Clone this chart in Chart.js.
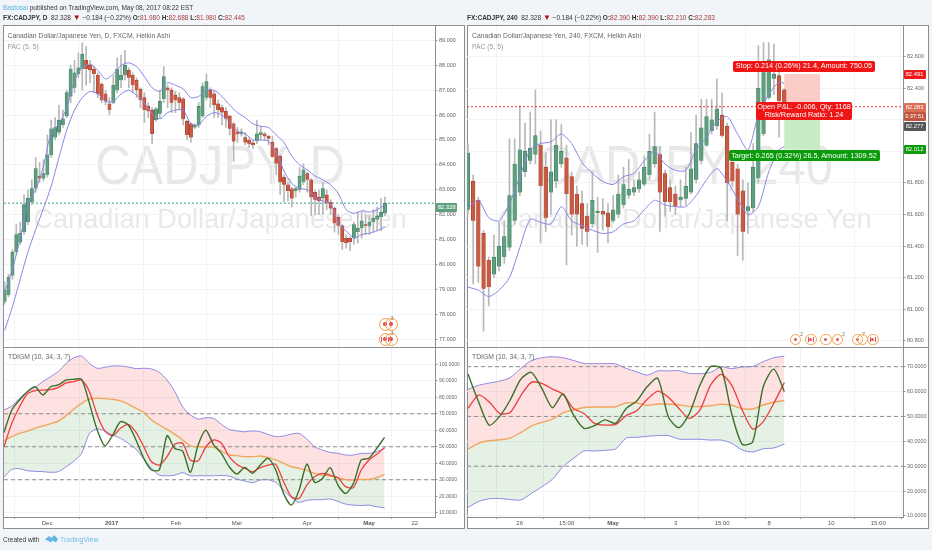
<!DOCTYPE html>
<html><head><meta charset="utf-8">
<script src="https://cdn.jsdelivr.net/npm/chart.js@4"></script>
<style>
html,body{margin:0;padding:0;width:932px;height:550px;overflow:hidden;background:#f1f5f9;font-family:"Liberation Sans",Arial,sans-serif;}
#stage{position:absolute;left:0;top:0;width:932px;height:550px;filter:blur(.3px);}
.abs{position:absolute;white-space:nowrap;}
.panel{position:absolute;background:#fff;border:1px solid #8e8e8e;box-sizing:border-box;}
canvas{position:absolute;}
.hdr{font-size:6.5px;color:#333;line-height:9px;}
.val{color:#a83a3a;}
.legend{font-size:6.8px;color:#666;line-height:9px;}
.wm1,.wm2{color:#e8e8e8;line-height:1;transform-origin:center bottom;}
.tag{position:absolute;color:#fff;font-size:5.8px;text-align:center;line-height:9px;height:9px;border-radius:1px;}
.box{position:absolute;color:#fff;font-size:7.3px;text-align:center;border-radius:2px;white-space:nowrap;line-height:7.6px;box-sizing:border-box;}
.ev{position:absolute;width:11.5px;height:11.5px;border:1.1px solid #f5a14b;border-radius:50%;background:#fff;box-sizing:border-box;}
.ev.big{width:13px;height:13px;border-width:1.5px;border-color:#f39a3e;}
.ev i{position:absolute;left:50%;top:50%;width:3.4px;height:3.4px;margin:-1.7px 0 0 -1.7px;border-radius:50%;background:#e4505c;}
.ev.ca:before,.ev.ca:after{content:"";position:absolute;top:50%;width:1px;height:5px;margin-top:-2.5px;background:#e4505c;}
.ev.ca:before{left:1.8px}.ev.ca:after{right:1.8px}
.ev b{position:absolute;left:100%;top:-4px;font:normal 5.5px "Liberation Sans";color:#777;}
</style></head><body>
<div id="stage">
  <div class="abs hdr" style="left:3px;top:2.5px"><span style="color:#5bb5e0">Bastosai</span> published on TradingView.com, May 08, 2017 08:22 EST</div>
  <div class="abs hdr" style="left:3px;top:13px"><b>FX:CADJPY, D</b>&nbsp; 82.328 <span style="color:#a11;font-size:8px">▼</span> −0.184 (−0.22%) <b>O:</b><span class="val">81.980</span> <b>H:</b><span class="val">82.688</span> <b>L:</b><span class="val">81.980</span> <b>C:</b><span class="val">82.445</span></div>
  <div class="abs hdr" style="left:467px;top:13px"><b>FX:CADJPY, 240</b>&nbsp; 82.328 <span style="color:#a11;font-size:8px">▼</span> −0.184 (−0.22%) <b>O:</b><span class="val">82.390</span> <b>H:</b><span class="val">82.390</span> <b>L:</b><span class="val">82.210</span> <b>C:</b><span class="val">82.283</span></div>

  <div class="panel" style="left:3px;top:25px;width:462px;height:504px"></div>
  <div class="panel" style="left:467px;top:25px;width:462px;height:504px"></div>

  <div class="abs wm1" style="left:220px;top:144px;font-size:49px;transform:translateX(-50%) scaleY(1.15)">CADJPY, D</div>
  <div class="abs wm2" style="left:220px;top:205px;font-size:27.2px;transform:translateX(-50%)">Canadian Dollar/Japanese Yen</div>
  <div class="abs wm1" style="left:685px;top:144px;font-size:49px;transform:translateX(-50%) scaleY(1.15)">CADJPY, 240</div>
  <div class="abs wm2" style="left:685px;top:205px;font-size:27.2px;transform:translateX(-50%)">Canadian Dollar/Japanese Yen</div>

  <canvas id="dMain" style="left:4px;top:26px"></canvas>
  <canvas id="dSub" style="left:4px;top:348px"></canvas>
  <canvas id="hMain" style="left:467px;top:26px"></canvas>
  <canvas id="hSub" style="left:467px;top:348px"></canvas>

  <div style="position:absolute;left:3px;top:347px;width:462px;height:1.4px;background:#8e8e8e"></div>
  <div style="position:absolute;left:467px;top:347px;width:462px;height:1.4px;background:#8e8e8e"></div>
  <div style="position:absolute;left:904px;top:517.5px;width:24px;height:10px;background:#fff"></div>

  <div class="abs legend" style="left:7.5px;top:31px">Canadian Dollar/Japanese Yen, D, FXCM, Heikin Ashi</div>
  <div class="abs legend" style="left:7.5px;top:41.5px;color:#999">PAC (5, 5)</div>
  <div class="abs legend" style="left:8px;top:352px">TDIGM (10, 34, 3, 7)</div>
  <div class="abs legend" style="left:472px;top:31px">Canadian Dollar/Japanese Yen, 240, FXCM, Heikin Ashi</div>
  <div class="abs legend" style="left:472px;top:41.5px;color:#999">PAC (5, 5)</div>
  <div class="abs legend" style="left:472px;top:352px">TDIGM (10, 34, 3, 7)</div>

  <div class="tag" style="left:436px;top:202.5px;width:21px;background:#5f9f80">82.328</div>
  <div class="tag" style="left:903.5px;top:69.5px;width:22px;background:#f01818">82.491</div>
  <div class="tag" style="left:903.5px;top:102.5px;width:22px;background:#dc6f58">82.283</div>
  <div class="tag" style="left:903.5px;top:111.5px;width:22px;background:#c0553f">3:37:51</div>
  <div class="tag" style="left:903.5px;top:122px;width:22px;background:#555">82.277</div>
  <div class="tag" style="left:903.5px;top:145px;width:22px;background:#0b9b0b">82.012</div>

  <div class="box" style="left:733px;top:61px;width:142px;height:10.6px;background:#f01515;line-height:10.6px">Stop: 0.214 (0.26%) 21.4, Amount: 750.05</div>
  <div class="box" style="left:756px;top:102.3px;width:96px;height:17.4px;background:#f01515;padding-top:1.2px">Open P&amp;L: -0.006, Qty: 1168<br>Risk/Reward Ratio: 1.24</div>
  <div class="box" style="left:728.5px;top:150px;width:151px;height:11.2px;background:#0a9a0a;line-height:11.2px">Target: 0.265 (0.32%) 26.5, Amount: 1309.52</div>

  <div class="ev big" style="left:378.5px;top:317.5px"><i></i><b>3</b></div>
  <div class="ev big" style="left:384.5px;top:317.5px;background:transparent"><i></i></div>
  <div class="ev big ca" style="left:378.5px;top:332.5px"><i></i><b>3</b></div>
  <div class="ev big" style="left:384.5px;top:332.5px;background:transparent"><i></i></div>

  <div class="ev" style="left:789.5px;top:333.5px"><i></i><b>2</b></div>
  <div class="ev ca" style="left:805px;top:333.5px"><i></i></div>
  <div class="ev" style="left:820px;top:333.5px"><i></i></div>
  <div class="ev" style="left:831.5px;top:333.5px"><i></i><b>2</b></div>
  <div class="ev" style="left:851.5px;top:333.5px"><i></i><b>7</b></div>
  <div class="ev" style="left:856.5px;top:333.5px;background:transparent"></div>
  <div class="ev ca" style="left:867px;top:333.5px"><i></i></div>

  <div class="abs hdr" style="left:3px;top:534.5px;color:#333">Created with</div>
  <svg style="position:absolute;left:45px;top:534px" width="13" height="10" viewBox="0 0 13 10"><path d="M0 5.5 L4 2 L6.5 4 L9 1 L13 5 L11 8.5 L7.5 6.5 L5.5 8.5 L3 6.8 Z" fill="#5fb8e3"/></svg>
  <div class="abs hdr" style="left:60px;top:534.5px;color:#6fbfe6;font-size:7px">TradingView</div>
</div>
<script>
// ---------- Daily candles (Heikin Ashi) ----------
const dO=[78.5,78.77,79.55,80.5,80.88,81.3,81.7,82.5,83.05,83.55,
83.45,83.6,84.4,85.1,85.3,85.6,85.95,86.75,87.1,87.65,
87.85,88.2,88,87.85,87.6,87.25,86.85,86.45,86.5,87,
87.4,87.6,87.8,87.6,87.4,87.05,86.7,86.35,86.2,85.8,
86.05,86.65,87.1,87,86.8,86.7,86.65,85.75,85.65,85.5,
85.6,85.95,86.7,87,86.85,86.45,86.3,86.15,85.95,85.65,
85.33,85.23,85.1,85,84.88,84.95,85.2,85.25,85.15,84.92,
84.65,84.35,83.5,83.2,83.04,82.95,83,83.3,83.65,83.4,
82.9,82.7,82.66,82.8,82.5,82.25,81.9,81.55,81.05,81.05,
81.05,81.3,81.45,81.6,81.53,81.7,81.8,81.9,82.05];
const dC=[78.97,79.48,80.49,81.2,81.25,82.4,82.66,83.05,83.85,83.45,
83.65,84.4,85.45,85.5,85.8,85.85,86.9,87.85,87.7,87.9,
88.45,87.85,87.8,87.65,86.85,86.6,86.55,86.2,87.2,87.85,
87.6,88,87.5,87.2,87,86.6,86.2,86.15,85.25,86.25,
86.55,87.55,87,86.5,86.6,86.5,85.85,85.2,85.1,85.6,
86.35,87.15,87.35,86.7,86.4,86.2,86.1,85.85,85.45,84.95,
85.23,85.33,84.9,84.85,84.8,85.25,85.3,85.15,85.05,84.32,
84.05,83.3,83.2,82.95,82.65,83.05,83.55,83.8,83.4,82.7,
82.6,82.55,83.05,82.46,82.25,81.65,81.55,80.9,80.85,80.9,
81.6,81.45,81.75,81.55,81.7,81.85,81.95,82.1,82.45];
const dH=[79.3,79.6,80.6,81.6,81.7,82.8,83,83.4,84.3,84.1,
84.2,85.2,85.8,85.9,86.4,86.2,87,88,88.2,88.5,
88.9,88.75,88.2,87.95,87.7,87.3,87,86.7,87.6,88.3,
88.4,88.6,87.9,87.7,87.5,87.1,86.9,86.5,86.3,86.3,
87,87.95,87.2,87.1,86.95,86.9,86.7,85.8,85.7,85.65,
86.5,87.3,87.65,87.1,86.95,86.6,86.4,86.3,86,85.7,
85.5,85.45,85.3,85.1,85,85.8,85.55,85.3,85.2,85.15,
84.7,84.4,83.6,83.3,83.1,83.1,83.9,84.05,83.7,83.45,
83,83,83.3,83,82.6,82.3,82,81.6,81.2,81.1,
81.7,82.1,82.1,82,82,82.2,82.3,82.65,82.7];
const dL=[78.4,78.7,79.4,80.4,80.8,81.2,81.6,82.4,82.9,83.3,
83.35,83.5,84.3,85,85.2,85.5,85.9,86.5,86.9,87.5,
87,87.2,87.3,86.9,86.7,86.5,86.4,86,86.45,86.9,
87.1,87.4,87.1,86.9,86.7,86.3,85.7,85.9,84.85,85.75,
85.9,86.5,86.3,86.1,86.1,86.2,85.6,85,84.9,85.45,
85.5,85.9,86.6,86.3,85.9,85.9,85.6,85.5,85.2,84.15,
84.9,85.15,84.8,84.7,84.65,84.85,85,85,84.8,84.3,
83.6,82.8,82.5,82.55,82.3,82.7,82.9,83.2,82.9,81.95,
82,82,82,82.2,82,81.3,81.2,80.6,80.65,80.55,
80.8,80.85,81.05,81.2,81.2,81.3,81.35,81.35,81.95];
const dPacHi=[78.9,79.8,81.05,82.45,83,83.95,85.3,85.65,86.3,87.4,87.9,88.05,87.8,87.45,87.65,88,88.1,87.95,87.55,87.1,86.95,87.3,87.2,87.05,86.7,86.75,87,87,86.75,86.4,86.1,85.9,85.65,85.55,85.5,85.2,84.9,84.35,84,83.8,83.55,83.4,83.2,82.85,82.2,82.05,82.15,82.1,82.2,82.4];
const dPacLo=[77.35,78.3,79.4,80.5,81.4,82.25,83.15,84.3,85.4,86.2,86.7,86.95,86.85,86.55,86.55,86.85,87,86.8,86.5,86.05,85.85,86.1,86.2,86.2,85.65,85.6,85.95,86.1,86,85.7,85.35,85.25,85,85,84.95,84.5,83.75,83.25,83.05,83,82.7,82.55,82.45,81.65,81.35,81.05,81.2,81.25,81.35,81.5];
// ---------- Daily TDI ----------
const dUp=[72.3,74.7,79.4,83.4,86,89.5,92.5,95.6,100.6,104,105,100.6,97.6,98.2,99,99,98.4,97.4,97.6,97.2,95.1,90.5,83.4,74.3,69.3,66.8,67.6,67.2,63.6,60.6,59.6,59.1,59.6,59.1,57.5,56.1,56.5,57.7,58.1,54.7,50,48,46.6,46,45,45,46,46,47,49];
const dMid=[53.5,56.1,58.1,59.5,61.2,62.6,64,65.6,68.9,72.9,76.3,79,79.4,79.2,78.8,77.8,75.9,73.3,70.9,66.2,63.2,60.6,57.5,54.1,50.6,50,50,49.8,47.4,45,44.6,44,44,44.4,43.4,42,39.9,37.9,36.9,35.7,33.9,32.8,32.2,31.2,30,29.8,30.2,30.2,31.2,33.3];
const dLow=[31.8,36.3,36.7,35.5,35.1,34.9,34.5,34.9,37.9,41.3,46,58.1,60.8,59.5,57.1,55.1,52.1,48.6,42.6,36.9,32.8,32.4,32.8,34.3,32.4,32.4,32.4,32.4,32.6,32.2,30.4,29.2,28.2,29.8,30,28.4,23.7,19.1,16.3,17.5,17.9,17.9,18.3,16.9,15.2,14.6,14.4,14.6,13.6,13];
const dK=[58.7,72.3,78.4,83.4,86.4,81.4,86.4,87.5,90.5,90.9,90.9,76.3,60.2,50.6,57.1,65.2,63.2,54.1,43,35.9,36,56.7,49,47.4,34.5,51.1,60,51.1,46,37.9,33.5,37.5,33.9,38.9,43,35.9,21.7,14.6,23.7,39.5,28.4,30.8,37.3,26.8,21.7,27.8,42,43,49,55.7];
const dD=[50,64.2,74.3,82,84,84.4,84.6,86,88.7,89.5,90.5,83.4,69.3,59.5,56.7,61.2,63.6,58.7,50,40.9,38.9,44,51.5,52.1,42,41.5,50,54.1,52.1,44,39.3,36.9,34.9,37.3,38.9,39.3,28.8,19.7,18.7,26.8,31.8,33.9,32.8,31.2,25.8,25.2,35.9,42,45.4,49.6];
// ---------- 240 candles (Heikin Ashi) ----------
const hO=[81.63,81.81,81.69,81.48,81.31,81.22,81.27,81.33,81.39,81.56,
81.74,81.87,81.94,81.98,82.04,81.9,81.74,81.81,81.92,81.96,
81.84,81.73,81.67,81.59,81.54,81.61,81.62,81.61,81.56,81.6,
81.66,81.72,81.74,81.76,81.79,81.85,81.92,81.98,81.86,81.77,
81.73,81.69,81.7,81.74,81.82,81.94,82.04,82.13,82.16,82.23,
82.16,81.93,81.89,81.75,81.62,81.64,81.83,82.11,82.34,82.46,
82.48,82.39];
const hC=[81.99,81.56,81.27,81.13,81.14,81.33,81.4,81.46,81.72,81.92,
82.01,82,82.02,82.1,81.78,81.58,81.87,82.04,82,81.73,
81.6,81.6,81.51,81.49,81.69,81.62,81.6,81.52,81.63,81.73,
81.79,81.76,81.77,81.82,81.9,82,82.03,81.74,81.68,81.68,
81.65,81.71,81.78,81.89,82.05,82.15,82.22,82.2,82.27,82.1,
81.8,81.81,81.6,81.49,81.65,81.9,82.4,82.5,82.58,82.49,
82.32,82.29];
const hH=[82.05,81.85,81.71,81.5,81.33,81.47,81.55,81.56,82.08,82.08,
82.29,82.18,82.25,82.39,82.13,81.99,82.2,82.2,82.17,82.04,
81.87,81.78,81.75,81.67,81.87,81.71,81.7,81.67,81.72,81.85,
81.9,81.95,81.82,81.87,81.97,82.11,82.25,82.03,81.88,81.82,
81.78,81.82,81.9,82.12,82.23,82.33,82.33,82.33,82.46,82.37,
82.18,82,81.92,81.82,81.8,82.05,82.67,82.69,82.69,82.68,
82.5,82.4];
const hL=[81.6,81.16,81.17,80.86,81.02,81.2,81.24,81.29,81.37,81.54,
81.72,81.84,81.92,81.92,81.42,81.49,81.6,81.77,81.9,81.28,
81.47,81.4,81.41,81.4,81.52,81.36,81.5,81.42,81.55,81.58,
81.64,81.7,81.72,81.74,81.78,81.82,81.9,81.49,81.59,81.62,
81.6,81.65,81.66,81.73,81.8,81.92,82.03,82.11,82.14,82.09,
81.56,81.78,81.34,81.31,81.48,81.62,81.8,82.1,82.33,82.36,
82.09,82.28];
const hPacHi=[81.64,81.69,81.58,81.56,81.67,81.84,82.01,82.05,82.06,82.11,82.05,81.93,81.86,81.81,81.79,81.84,81.86,81.94,82,81.92,81.88,81.88,82.01,82.09,82.19,82.22,82.11,82.01,82.23,82.36,82.44,82.43];
const hPacLo=[81.14,81.12,81.08,81.12,81.2,81.39,81.57,81.55,81.54,81.65,81.56,81.53,81.5,81.48,81.49,81.54,81.56,81.63,81.69,81.66,81.65,81.65,81.72,81.82,81.89,81.81,81.7,81.6,81.65,81.87,82.01,82.03];
// ---------- 240 TDI ----------
const hUp=[60.9,62.5,63.4,64.2,65.6,69.3,72.4,73.6,74,73.6,72.5,71.3,71.2,71.2,71.1,69.3,67.9,66.6,68.3,68.3,68.4,67.3,67.2,67.7,69.9,69.2,69.9,70.1,72,73.6,74.2];
const hMid=[36.9,39.2,40.2,40.6,41.3,43.5,46.1,47.6,48.9,51.4,52.6,53.6,53.8,53.8,53.9,55.4,55.4,54.4,55,54.9,54.6,54,54,54.3,54.9,54.5,53.1,53,54.6,55.7,56.4];
const hLow=[13.4,15.8,16.9,17,16.6,16.4,19,21.7,24.7,29.8,33.1,36.1,36.1,36.4,36.9,41.3,41.6,42,42.3,42.3,40.9,40.8,40.8,40.5,40.5,39.2,36.5,35.7,37,37.3,38.9];
const hK=[67,55.9,46.5,50,56.6,64.9,67.7,61.3,53.5,59,50.6,45.2,46.3,48.6,47.2,53.2,56.2,62,65.3,49.8,45.5,51.2,62.6,70,69.3,51.2,38.8,39.8,62,69,60];
const hD=[53.2,58.6,55.9,51.2,51.6,58.3,63.7,63.3,61,59,53.2,51.2,47.2,46.5,46.8,50.3,52.3,56.9,60.2,57.7,53.2,49.2,52.6,62.6,66.9,62.6,52.6,44.9,47.9,55.3,63.6];
// ---------- axes ----------
const dPriceTicks=[77,78,79,80,81,82,83,84,85,86,87,88,89];
const dOscTicks=[10,20,30,40,50,60,70,80,90,100];
const dDateLabels=['Dec','2017','Feb','Mar','Apr','May','22'];
const dDateIdxMain=[10.9,27.4,44,60,77.9,94,105.7];
const dDateIdxSub=[11.1,27.7,44.3,60,78.1,94,105.8];
const hPriceTicks=[80.8,81,81.2,81.4,81.6,81.8,82,82.2,82.4,82.6];
const hOscTicks=[10,20,30,40,50,60,70];
const hDateLabels=['26','15:00','May','3','15:00','8','10','15:00'];
const hDateIdxMain=[9.96,18.96,27.96,39.97,48.97,58,70,79];
const hDateIdxSub=[9.8,18.7,27.5,39.4,48.2,57.1,68.9,77.8];
const oscLevels=[70,50,30];
const dLastLine=82.46;
const hLastLine=82.283;
const hStop=82.491, hTarget=82.012, hEntry=82.283;
const hPosBars=[61,67.9];

const GREEN='#5f9e7e',GREEN_B='#3a7d5f',RED='#cb5a44',RED_B='#a23c2a';
const TXT='#666',GRID='#f1f3f6',AXIS='#8e8e8e';

function candleSets(O,H,L,C,bw){
  return [
    {type:'bar',order:2,grouped:false,barThickness:1,backgroundColor:'#b8b8b8',borderWidth:0,
      data:H.map((h,i)=>({x:i,y:[L[i],h]}))},
    {type:'bar',order:1,grouped:false,barThickness:bw,minBarLength:1,borderWidth:.6,
      backgroundColor:C.map((c,i)=>c>=O[i]?GREEN:RED),
      borderColor:C.map((c,i)=>c>=O[i]?GREEN_B:RED_B),
      data:C.map((c,i)=>({x:i,y:[O[i],c]}))}
  ];
}
function line(vals,step,lastIdx,color,width,order,extra){
  return Object.assign({type:'line',order,borderColor:color,borderWidth:width,pointRadius:0,tension:.25,fill:false,
    data:vals.map((v,i)=>({x:Math.min(i*step,lastIdx),y:v}))},extra||{});
}
function hline(y,a,b,color,dash,order){
  return {type:'line',order,borderColor:color,borderWidth:1,borderDash:dash,pointRadius:0,fill:false,
    data:[{x:a,y},{x:b,y}]};
}
function oscSets(up,mid,low,k,d,lastIdx,a,b){
  return [
    line(up,2,lastIdx,'#8f86e4',1,5,{fill:{target:'+1'},backgroundColor:'rgba(250,60,60,.15)'}),
    line(mid,2,lastIdx,'#f2a55c',1.4,3),
    line(low,2,lastIdx,'#8f86e4',1,5,{fill:{target:'-1'},backgroundColor:'rgba(30,140,30,.12)'}),
    line(d,2,lastIdx,'#ee3f3f',1.3,1),
    line(k,2,lastIdx,'#3d6f28',1.4,0),
    ...oscLevels.map(l=>hline(l,a,b,'#8c8c8c',[4,3],4))
  ];
}
function noMargins(s){
  s.paddingTop=s.paddingBottom=s.paddingLeft=s.paddingRight=0;
  if(s._margins){s._margins.top=s._margins.bottom=s._margins.left=s._margins.right=0;}
}
function makeChart(id,axisW,xAxisH,datasets,xr,yr,xIdx,xLabels,yTicks,dec,yFont,plugins){
  const el=document.getElementById(id);
  return new Chart(el,{
    type:'bar',
    data:{datasets},
    plugins:plugins||[],
    options:{
      responsive:false,animation:false,devicePixelRatio:1,events:[],
      layout:{autoPadding:false,padding:0},
      plugins:{legend:{display:false},tooltip:{enabled:false},title:{display:false}},
      scales:{
        x:{type:'linear',offset:false,min:xr[0],max:xr[1],
          afterBuildTicks:s=>{s.ticks=xIdx.map(v=>({value:v}));},
          afterFit:s=>{s.height=xAxisH;noMargins(s);},
          grid:{color:GRID,lineWidth:1,drawTicks:xAxisH>0,tickLength:2,tickColor:'#999'},
          border:{display:xAxisH>0,color:AXIS,width:1},
          ticks:{display:xAxisH>0,autoSkip:false,maxRotation:0,minRotation:0,padding:1,color:'#555',
            font:c=>({size:6,family:'"Liberation Sans"',weight:(xLabels[c.index]==='2017'||xLabels[c.index]==='May')?'bold':'normal'}),
            callback:(v,i)=>xLabels[i]}
        },
        y:{type:'linear',position:'right',min:yr[0],max:yr[1],
          afterBuildTicks:s=>{s.ticks=yTicks.map(v=>({value:v}));},
          afterFit:s=>{s.width=axisW;noMargins(s);},
          grid:{color:GRID,lineWidth:1,drawTicks:true,tickLength:2.5,tickColor:'#999'},
          border:{display:true,color:AXIS,width:1},
          ticks:{autoSkip:false,padding:1.5,color:TXT,font:{size:yFont,family:'"Liberation Sans"'},
            callback:v=>Number(v).toFixed(dec)}
        }
      }
    }
  });
}
[['dMain',460,321],['dSub',460,180],['hMain',461,321],['hSub',461,180]].forEach(([id,w,h])=>{
  const c=document.getElementById(id);c.width=w;c.height=h;c.style.width=w+'px';c.style.height=h+'px';
});

const positionBox={id:'positionBox',beforeDatasetsDraw(ch){
  const {ctx,scales:{x,y}}=ch;
  const l=x.getPixelForValue(hPosBars[0]),r=x.getPixelForValue(hPosBars[1]);
  ctx.save();
  ctx.fillStyle='#fccdc8';ctx.fillRect(l,y.getPixelForValue(hStop),r-l,y.getPixelForValue(hEntry)-y.getPixelForValue(hStop));
  ctx.fillStyle='#c8ebc6';ctx.fillRect(l,y.getPixelForValue(hEntry),r-l,y.getPixelForValue(hTarget)-y.getPixelForValue(hEntry));
  ctx.restore();
}};

const dMinM=-0.17,dMaxM=110.9,hMinM=-0.19,hMaxM=83.9;
makeChart('dMain',29,0,[
  ...candleSets(dO,dH,dL,dC,3.3),
  line(dPacHi,2,98,'#8b84e6',1,0),
  line(dPacLo,2,98,'#8b84e6',1,0),
  hline(dLastLine,dMinM,dMaxM,'#35a07a',[2,2],3)
],[dMinM,dMaxM],[76.68,89.58],dDateIdxMain,dDateLabels,dPriceTicks,3,5.5);
makeChart('dSub',29,11,oscSets(dUp,dMid,dLow,dK,dD,98,0,111),[0,111],[7.4,109.9],dDateIdxSub,dDateLabels,dOscTicks,4,5);
makeChart('hMain',25,0,[
  ...candleSets(hO,hH,hL,hC,3.7),
  line(hPacHi,2,61,'#8b84e6',1,0),
  line(hPacLo,2,61,'#8b84e6',1,0),
  hline(hLastLine,hMinM,hMaxM,'#e23030',[2,2],0)
],[hMinM,hMaxM],[80.76,82.795],hDateIdxMain,hDateLabels,hPriceTicks,3,5.5,[positionBox]);
makeChart('hSub',25,11,oscSets(hUp,hMid,hLow,hK,hD,60,-0.19,82.5),[-0.19,82.5],[9.57,77.5],hDateIdxSub,hDateLabels,hOscTicks,4,5.4);
</script>
</body></html>
